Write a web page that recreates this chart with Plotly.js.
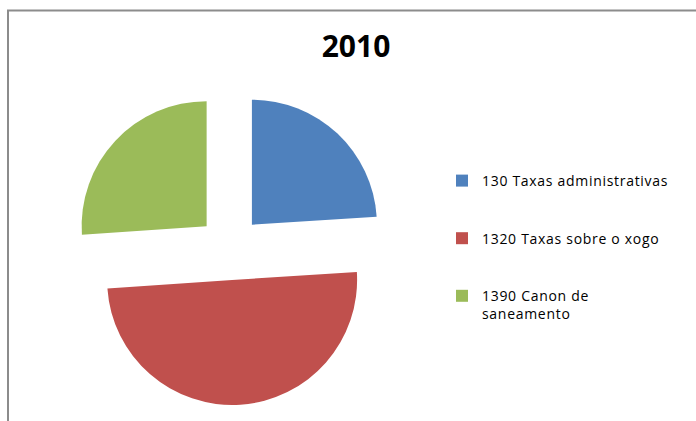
<!DOCTYPE html>
<html>
<head>
<meta charset="utf-8">
<script src="https://cdn.plot.ly/plotly-3.0.1.min.js"></script>
<style>
  html, body { margin: 0; padding: 0; background: #ffffff; }
  #chart { width: 696px; height: 421px; }
  .legendtext { letter-spacing: 0.7px; }
</style>
</head>
<body>
<div id="chart"></div>
<script>
// Data
var chartTitle = "2010";
var categories = [
  "130 Taxas administrativas",
  "1320 Taxas sobre o xogo",
  "1390 Canon de<br>saneamento"
];
var values = [24.0, 49.9, 26.1];
var colors = ["#4F81BD", "#C0504D", "#9BBB59"];

// pad single-line labels with blank lines so legend entries are spaced like the original
var legendLabels = categories.map(function (c, i) {
  return i < categories.length - 1 ? c + "<br> <br> " : c;
});

var W = 696, H = 421;
var cx = 230, cy = 248, half = 157;

var trace = {
  type: "pie",
  labels: legendLabels,
  values: values,
  sort: false,
  direction: "clockwise",
  rotation: 0,
  pull: [0.256, 0.256, 0.256],
  textinfo: "none",
  hoverinfo: "label+percent",
  marker: { colors: colors, line: { width: 0 } },
  domain: {
    x: [(cx - half) / W, (cx + half) / W],
    y: [1 - (cy + half) / H, 1 - (cy - half) / H]
  }
};

var layout = {
  width: W,
  height: H,
  margin: { l: 0, r: 0, t: 0, b: 0, autoexpand: false },
  paper_bgcolor: "#ffffff",
  plot_bgcolor: "#ffffff",
  title: {
    text: "<b>" + chartTitle + "</b>",
    font: { family: "Open Sans, sans-serif", size: 30, color: "#000000" },
    x: 356 / W,
    xanchor: "center",
    xref: "paper",
    y: 1 - 46 / H,
    yanchor: "middle",
    yref: "container"
  },
  showlegend: true,
  legend: {
    x: 442 / W,
    xanchor: "left",
    y: 1 - 165 / H,
    yanchor: "top",
    valign: "top",
    font: { family: "Open Sans, sans-serif", size: 14, color: "#000000" },
    bgcolor: "rgba(0,0,0,0)",
    borderwidth: 0
  },
  shapes: [{
    type: "rect",
    xref: "paper", yref: "paper",
    x0: 8 / W, x1: 1.3,
    y0: -0.3, y1: 1 - 10.5 / H,
    line: { color: "#8c8c8c", width: 2 },
    fillcolor: "rgba(0,0,0,0)",
    layer: "below"
  }]
};

Plotly.newPlot("chart", [trace], layout, { displayModeBar: false, staticPlot: true });
</script>
</body>
</html>
